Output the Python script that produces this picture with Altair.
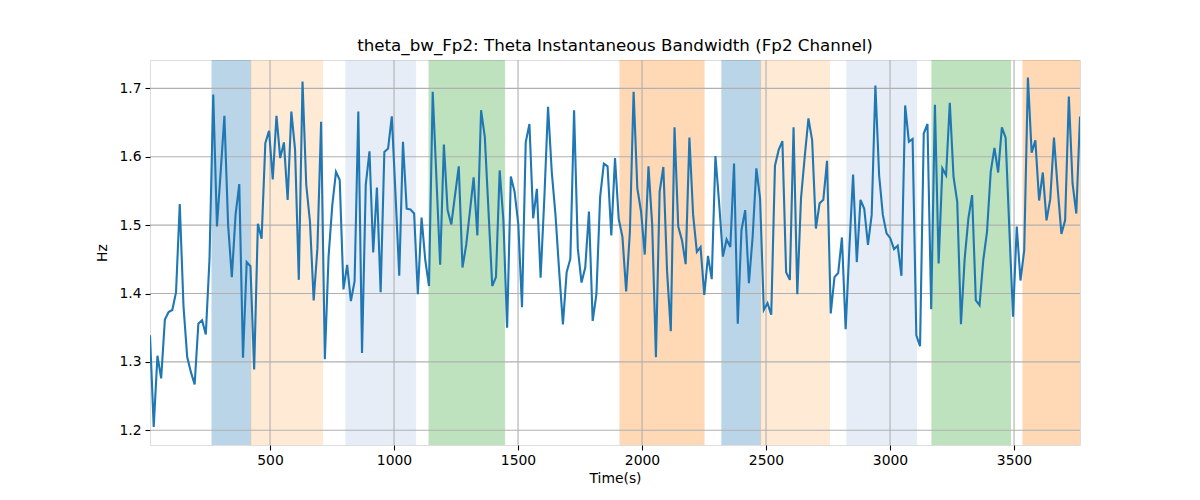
import altair as alt
import pandas as pd

# ---- data ----
t_start = 16
t_step = 15
theta_bw = [
    1.339, 1.205, 1.309, 1.276, 1.362, 1.373, 1.376, 1.402, 1.531, 1.382,
    1.307, 1.285, 1.267, 1.356, 1.361, 1.340, 1.451, 1.691, 1.498, 1.578,
    1.660, 1.500, 1.424, 1.515, 1.560, 1.306, 1.446, 1.440, 1.289, 1.502,
    1.480, 1.620, 1.638, 1.567, 1.660, 1.598, 1.621, 1.537, 1.666, 1.610,
    1.420, 1.710, 1.559, 1.505, 1.390, 1.466, 1.651, 1.304, 1.454, 1.529,
    1.578, 1.566, 1.406, 1.442, 1.389, 1.418, 1.666, 1.313, 1.559, 1.608,
    1.460, 1.555, 1.402, 1.607, 1.612, 1.659, 1.545, 1.426, 1.622, 1.524,
    1.523, 1.517, 1.399, 1.511, 1.449, 1.411, 1.695, 1.568, 1.442, 1.618,
    1.522, 1.501, 1.544, 1.586, 1.438, 1.471, 1.520, 1.570, 1.485, 1.668,
    1.629, 1.520, 1.411, 1.424, 1.580, 1.507, 1.350, 1.571, 1.549, 1.502,
    1.380, 1.621, 1.648, 1.510, 1.553, 1.423, 1.539, 1.673, 1.578, 1.515,
    1.432, 1.355, 1.431, 1.451, 1.668, 1.466, 1.416, 1.438, 1.520, 1.360,
    1.399, 1.541, 1.590, 1.586, 1.485, 1.598, 1.509, 1.483, 1.403, 1.490,
    1.695, 1.554, 1.520, 1.457, 1.586, 1.500, 1.307, 1.549, 1.585, 1.432,
    1.345, 1.643, 1.498, 1.478, 1.443, 1.628, 1.515, 1.461, 1.468, 1.398,
    1.455, 1.421, 1.601, 1.532, 1.454, 1.479, 1.468, 1.590, 1.356, 1.493,
    1.522, 1.415, 1.483, 1.583, 1.539, 1.376, 1.386, 1.369, 1.587, 1.610,
    1.623, 1.431, 1.420, 1.643, 1.399, 1.539, 1.600, 1.656, 1.624, 1.495,
    1.532, 1.537, 1.594, 1.371, 1.424, 1.430, 1.482, 1.348, 1.466, 1.574,
    1.446, 1.537, 1.524, 1.471, 1.515, 1.704, 1.573, 1.515, 1.488, 1.481,
    1.465, 1.470, 1.426, 1.675, 1.622, 1.626, 1.339, 1.323, 1.634, 1.648,
    1.377, 1.676, 1.444, 1.583, 1.573, 1.679, 1.571, 1.534, 1.355, 1.451,
    1.510, 1.544, 1.390, 1.383, 1.449, 1.490, 1.578, 1.613, 1.577, 1.643,
    1.628, 1.495, 1.366, 1.498, 1.419, 1.463, 1.716, 1.606, 1.624, 1.536,
    1.577, 1.507, 1.538, 1.628, 1.554, 1.487, 1.507, 1.688, 1.561, 1.517,
    1.659,
]
times = [t_start + t_step * i for i in range(len(theta_bw))]

span_start = [266, 422, 806, 1141, 1911, 2322, 2478, 2826, 3169, 3536]
span_end = [422, 712, 1087, 1446, 2250, 2478, 2756, 3107, 3486, 3766]
span_color = ["#1f77b4", "#ffbb78", "#aec7e8", "#2ca02c", "#ff7f0e",
              "#1f77b4", "#ffbb78", "#aec7e8", "#2ca02c", "#ff7f0e"]

x_ticks = [500, 1000, 1500, 2000, 2500, 3000, 3500]
y_ticks = [1.2, 1.3, 1.4, 1.5, 1.6, 1.7]
x_domain = [16, 3766]
y_domain = [1.1785, 1.7415]

title_text = "theta_bw_Fp2: Theta Instantaneous Bandwidth (Fp2 Channel)"

# ---- tables ----
line_df = pd.DataFrame({"t": times, "v": theta_bw})
span_df = pd.DataFrame({"s": span_start, "e": span_end, "c": span_color})
xg_df = pd.DataFrame({"x": x_ticks})
yg_df = pd.DataFrame({"y": y_ticks})

FONT = "DejaVu Sans"
W, H = 930, 385

xscale = alt.Scale(domain=x_domain, nice=False, zero=False)
yscale = alt.Scale(domain=y_domain, nice=False, zero=False)

x_axis = alt.Axis(values=x_ticks, format="d", title="Time(s)", grid=False,
                  domain=False, tickSize=5, tickWidth=1.1, tickColor="black",
                  labelFontSize=13.9, labelFont=FONT, labelColor="black",
                  labelPadding=3, titleFontSize=13.9, titleFont=FONT,
                  titleFontWeight="normal", titleColor="black", titlePadding=5)
y_axis = alt.Axis(values=y_ticks, format=".1f", title="Hz", grid=False,
                  domain=False, tickSize=5, tickWidth=1.1, tickColor="black",
                  labelFontSize=13.9, labelFont=FONT, labelColor="black",
                  labelPadding=4, titleFontSize=13.9, titleFont=FONT,
                  titleFontWeight="normal", titleColor="black", titlePadding=9)

spans = alt.Chart(span_df).mark_rect(opacity=0.3, strokeWidth=1, clip=True).encode(
    x=alt.X("s:Q", scale=xscale, axis=x_axis),
    x2="e:Q",
    color=alt.Color("c:N", scale=None, legend=None),
    stroke=alt.Stroke("c:N", scale=None, legend=None),
)

xgrid = alt.Chart(xg_df).mark_rule(color="#b0b0b0", strokeWidth=1.1).encode(
    x=alt.X("x:Q", scale=xscale, axis=x_axis)
)
ygrid = alt.Chart(yg_df).mark_rule(color="#b0b0b0", strokeWidth=1.1).encode(
    y=alt.Y("y:Q", scale=yscale, axis=y_axis)
)

line = alt.Chart(line_df).mark_line(color="#1f77b4", strokeWidth=2.1, clip=True).encode(
    x=alt.X("t:Q", scale=xscale, axis=x_axis),
    y=alt.Y("v:Q", scale=yscale, axis=y_axis),
)

chart = alt.layer(spans, xgrid, ygrid, line).properties(
    width=W, height=H,
    title=alt.TitleParams(title_text, font=FONT, fontSize=16.7,
                          fontWeight="normal", color="black", anchor="middle",
                          offset=5),
    autosize=alt.AutoSizeParams(type="none"),
    padding={"left": 142, "top": 52, "right": 112, "bottom": 47},
).configure_view(
    stroke="black", strokeWidth=1.1
).configure(background="white")

chart.save("out.html", embed_options={"renderer": "svg", "actions": False})
